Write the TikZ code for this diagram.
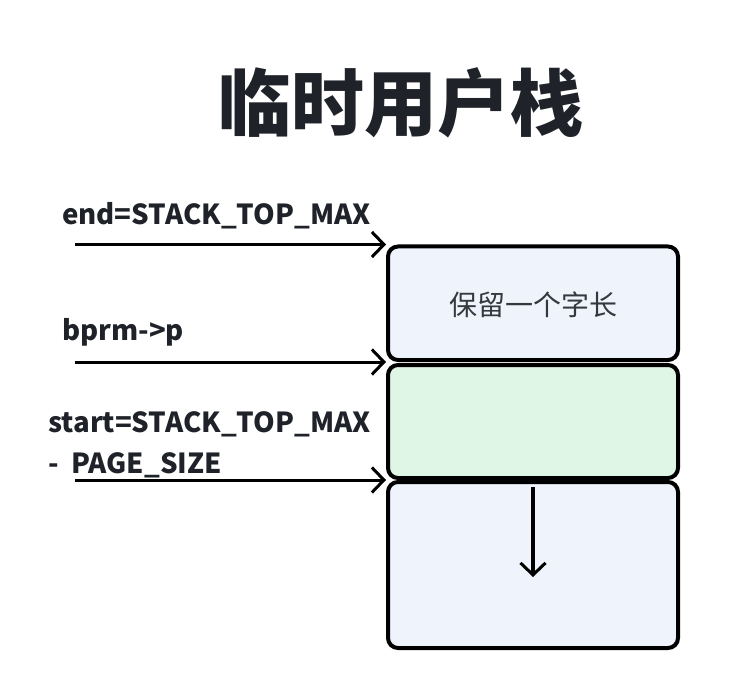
\documentclass[tikz,border=0pt]{standalone}
\usepackage{fontspec}
\setmainfont{Noto Sans CJK SC}
\usepackage{tikz}
\usetikzlibrary{arrows.meta}
\definecolor{textdark}{HTML}{1F2329}
\definecolor{wordblue}{HTML}{EFF3FC}
\definecolor{pagegreen}{HTML}{DFF5E5}

\tikzset{
  mem/.style={rectangle,draw=black,line width=4pt,rounded corners=10pt,minimum width=290pt,inner sep=0pt},
  ptr/.style={line width=3pt,-{Straight Barb[length=12pt,width=25pt,line width=3pt]}},
  lbl/.style={anchor=base west,inner sep=0pt,text=textdark,font=\fontsize{27.6}{40}\selectfont\bfseries},
}

\begin{document}
\begin{tikzpicture}[x=1pt,y=-1pt]

\useasboundingbox (0,0) rectangle (730,700);

\node (title) [text=textdark,font=\fontsize{73}{80}\selectfont\bfseries] at (401,103) {临时用户栈};

\node (mem1) [mem,fill=wordblue,minimum height=113.5pt] at (533,303.25) {};
\node (mem2) [mem,fill=pagegreen,minimum height=113pt] at (533,421.5) {};
\node (mem3) [mem,fill=wordblue,minimum height=166pt] at (533,565) {};

\node (word) [text=textdark!90,font=\fontsize{28}{34}\selectfont] at (533,305) {保留一个字长};

\coordinate (tail) at (75,0);

\node (endlbl) [lbl] at (62,225) {end=STACK\_TOP\_MAX};
\node (plbl) [lbl] at (62,340) {bprm->p};
\node (startlbl) [lbl] at (48,432) {start=STACK\_TOP\_MAX};
\node (sizelbl) [lbl] at (48,473) {-\ \ PAGE\_SIZE};

\draw[ptr] (mem1.north west -| tail) -- (mem1.north west);
\draw[ptr] (mem1.south west -| tail) -- (mem1.south west);
\draw[ptr] (mem3.north west -| tail) -- (mem3.north west);

% direction of growth
\coordinate (grow1) at (533,487);
\coordinate (grow2) at (533,577);
\draw[ptr,line width=3.5pt] (grow1) -- (grow2);

\end{tikzpicture}
\end{document}
